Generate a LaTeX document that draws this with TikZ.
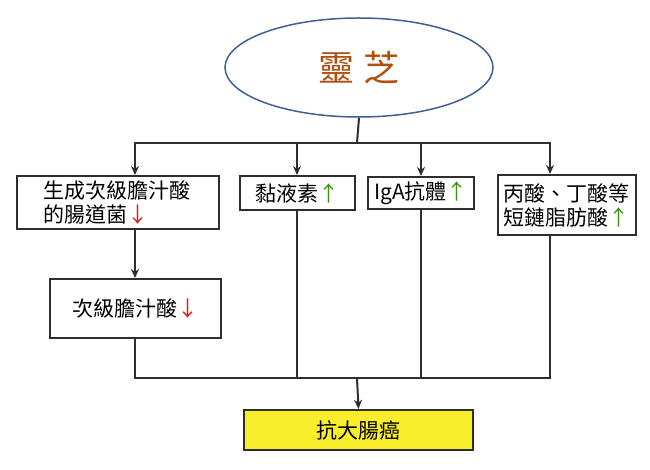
\documentclass[tikz,border=0pt]{standalone}
\usepackage{fontspec}
\setmainfont{Noto Sans CJK TC}
\usepackage{tikz}
\usetikzlibrary{shapes.geometric,arrows.meta}

\definecolor{edgegrey}{HTML}{2E2E2E}
\definecolor{ellblue}{HTML}{3D5F92}
\definecolor{herbbrown}{HTML}{B0500E}
\definecolor{downred}{HTML}{E8141B}
\definecolor{upgreen}{HTML}{3A9417}
\definecolor{cancelyellow}{HTML}{F8EE2A}

\newcommand{\down}{{\color{downred}↓}}
\newcommand{\up}{{\color{upgreen}↑}}

\tikzset{
    box/.style={draw=edgegrey, line width=2pt, fill=white,
        font=\fontsize{21}{24}\selectfont, inner sep=2pt},
    link/.style={draw=edgegrey, line width=2pt},
    tip/.style={-{Stealth[length=9pt,width=8pt]}},
}

\begin{document}
\begin{tikzpicture}[x=1pt,y=-1pt]
        \useasboundingbox (0,0) rectangle (650,470);

        % Lingzhi
        \node [ellipse, draw=ellblue, line width=1.5pt,
            minimum width=268pt,
            minimum height=99pt,
            text=herbbrown,
            font=\fontsize{36}{40}\selectfont,
        ] (lingzhi) at (359,67.5){靈\hspace{10pt}芝};

        % effects
        \node [box,
            minimum width=202pt,
            minimum height=53pt,
            text width=150pt, align=left,
        ] (bacteria) at (118,202.5){生成次級膽汁酸\\的腸道菌\down};

        \node [box,
            minimum width=115pt,
            minimum height=34pt,
        ] (mucin) at (297,193){黏液素\up};

        \node [box,
            minimum width=106pt,
            minimum height=32pt,
        ] (iga) at (421,193){IgA抗體\up};

        \node [box,
            minimum width=138pt,
            minimum height=60pt,
            text width=128pt, align=left,
        ] (scfa) at (567,205){丙酸、丁酸等\\短鏈脂肪酸\up};

        \node [box,
            minimum width=171pt,
            minimum height=59pt,
        ] (secbile) at (135,308.5){次級膽汁酸\down};

        % result
        \node [box, fill=cancelyellow, line width=2.4pt,
            minimum width=229pt,
            minimum height=40pt,
        ] (anticancer) at (358.5,430){抗大腸癌};

        \coordinate (split) at (357,143);
        \coordinate (merge) at (357,378);
        \coordinate (scfacol) at (550,143);

        \draw[link] (lingzhi.south)--(split);
        \draw[link,tip] (split)-|(secbile.north|-bacteria.north);
        \draw[link,tip] (split)-|(mucin.north);
        \draw[link,tip] (split)-|(iga.north);
        \draw[link,tip] (split)-|(scfacol|-scfa.north);
        \draw[link,tip] (secbile.north|-bacteria.south)--(secbile.north);

        \draw[link] (secbile.south)|-(merge);
        \draw[link] (mucin.south)|-(merge);
        \draw[link] (iga.south)|-(merge);
        \draw[link] (scfacol|-scfa.south)|-(merge);
        \draw[link,tip] (merge)--(anticancer.north);
        \end{tikzpicture}
\end{document}
